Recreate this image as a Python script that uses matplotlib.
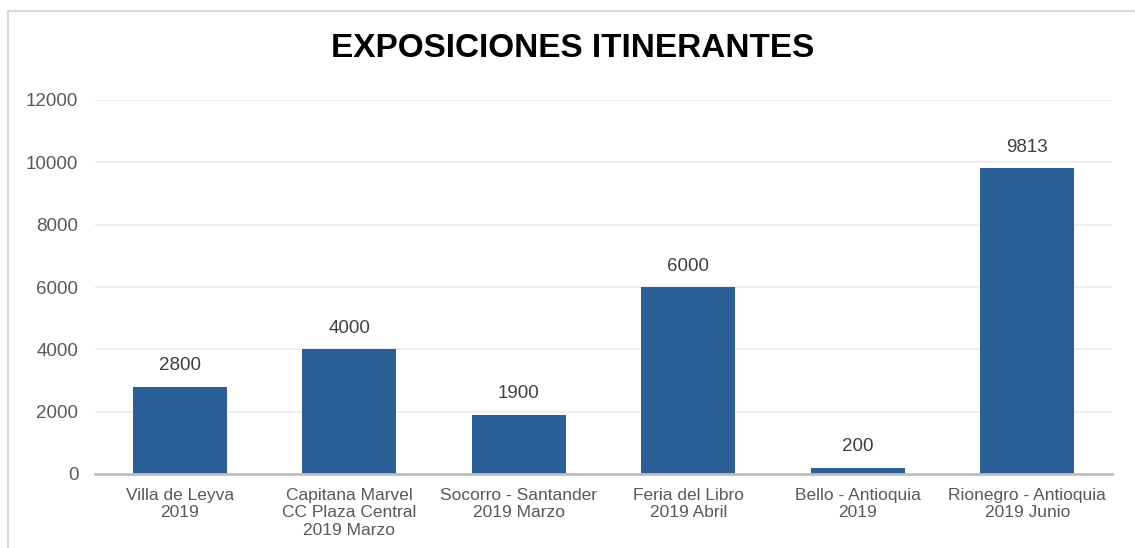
import matplotlib.pyplot as plt
from matplotlib.lines import Line2D

plt.rcParams['font.family'] = ['Liberation Sans', 'DejaVu Sans']

categories = [
    "Villa de Leyva\n2019",
    "Capitana Marvel\nCC Plaza Central\n2019 Marzo",
    "Socorro - Santander\n2019 Marzo",
    "Feria del Libro\n2019 Abril",
    "Bello - Antioquia\n2019",
    "Rionegro - Antioquia\n2019 Junio",
]
visitors = [2800, 4000, 1900, 6000, 200, 9813]
y_ticks = [0, 2000, 4000, 6000, 8000, 10000, 12000]

fig = plt.figure(figsize=(11.35, 5.48), dpi=100)
# chart frame: only top and left edges are visible in the crop
bx, by = 7.5 / 1135, 1 - 10.5 / 548
fig.lines.append(Line2D([bx, 1], [by, by], transform=fig.transFigure,
                        color='#D9D9D9', linewidth=1.5))
fig.lines.append(Line2D([bx, bx], [0, by], transform=fig.transFigure,
                        color='#D9D9D9', linewidth=1.5))

ax = fig.add_axes([95 / 1135, 1 - 474 / 548, 1017 / 1135, 374 / 548])

x = range(len(categories))
bars = ax.bar(x, visitors, width=0.555, color='#2B5F97', zorder=3)
for b, v in zip(bars, visitors):
    ax.text(b.get_x() + b.get_width() / 2, v + 400, str(v),
            ha='center', va='bottom', fontsize=13.5, color='#404040')

ax.set_xlim(-0.5, len(categories) - 0.5)
ax.set_ylim(0, 12000)
ax.set_yticks(y_ticks)
ax.set_xticks(list(x))
ax.set_xticklabels(categories, fontsize=12.5, color='#595959', linespacing=1.2)
ax.tick_params(axis='y', labelsize=13.5, labelcolor='#595959', length=0, pad=12)
ax.tick_params(axis='x', length=0, pad=10)
ax.grid(axis='y', color='#EBEBEB', linewidth=1.2, zorder=0)
for s in ['top', 'right', 'left']:
    ax.spines[s].set_visible(False)
ax.spines['bottom'].set_color('#BFBFBF')
ax.spines['bottom'].set_linewidth(2)
ax.spines['bottom'].set_zorder(4)

fig.text(573 / 1135, 1 - 48.5 / 548, "EXPOSICIONES ITINERANTES", ha='center',
         va='center', fontsize=24, fontweight='bold', color='black')

fig.savefig('out.png', dpi=100)
